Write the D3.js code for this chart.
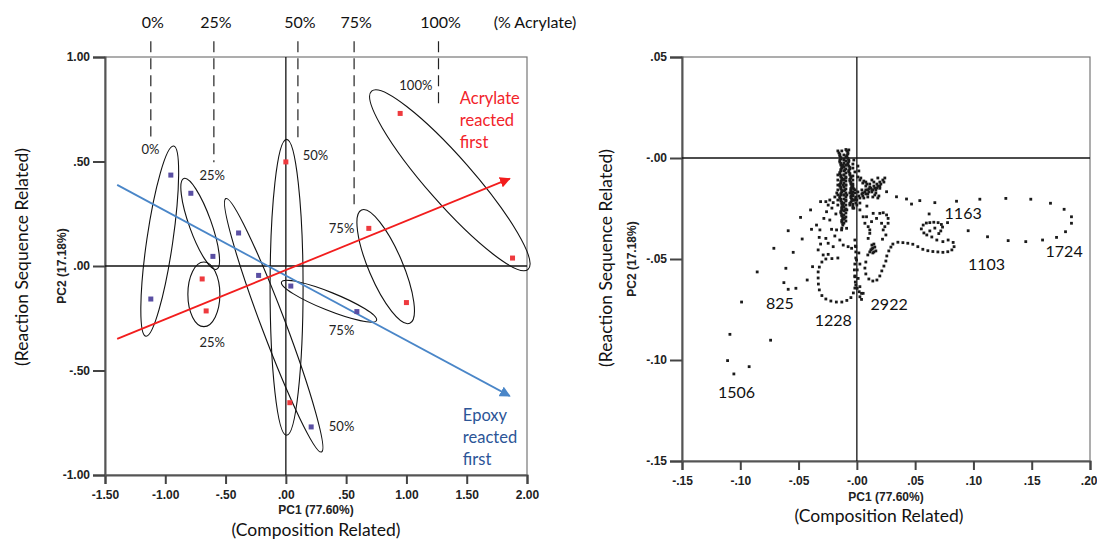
<!DOCTYPE html>
<html>
<head>
<meta charset="utf-8">
<script src="https://cdn.jsdelivr.net/npm/d3@7"></script>
<style>
  html, body { margin: 0; padding: 0; background: #fff; }
  svg { display: block; }
  .tick text { font-family: "Liberation Sans", Arial, sans-serif; font-weight: bold; font-size: 12px; fill: #222; }
</style>
</head>
<body>
<svg id="chart" width="1097" height="542"></svg>
<script>
// ---------- Left panel: PCA scores of cured samples ----------
const leftXTicks = [-1.5, -1.0, -0.5, 0, 0.5, 1.0, 1.5, 2.0];
const leftXTickLabels = ["-1.50", "-1.00", "-.50", ".00", ".50", "1.00", "1.50", "2.00"];
const leftYTicks = [1.0, 0.5, 0, -0.5, -1.0];
const leftYTickLabels = ["1.00", ".50", ".00", "-.50", "-1.00"];

// epoxy reacted first (blue) and acrylate reacted first (red) scores [PC1, PC2]
const epoxyFirstScores = [
  [-0.954, 0.435], [-1.12, -0.158],            // 0 %
  [-0.788, 0.348], [-0.605, 0.046],            // 25 %
  [-0.392, 0.158], [-0.226, -0.045], [0.21, -0.77], // 50 %
  [0.041, -0.096], [0.589, -0.218]             // 75 %
];
const acrylateFirstScores = [
  [-0.694, -0.062], [-0.661, -0.215],          // 25 %
  [0.00, 0.498], [0.033, -0.654],              // 50 %
  [0.688, 0.18], [1.0, -0.175],                // 75 %
  [0.948, 0.73], [1.88, 0.038]                 // 100 %
];

// group outlines: long-axis end points in score units
const groupOutlines = [
  [-0.931, 0.574, -1.161, -0.336],
  [-0.846, 0.419, -0.575, -0.016],
  [-0.68, 0.019, -0.68, -0.29],
  [-0.4975, 0.3225, 0.296, -0.89],
  [0.006, 0.606, 0.006, -0.81],
  [-0.036, -0.077, 0.752, -0.26],
  [0.628, 0.268, 1.028, -0.274],
  [0.711, 0.837, 2.009, -0.016]
];
const groupOutlineHalfWidths = [13, 11, 16, 12, 16.5, 9, 17, 23];

const groupLabels = ["0%", "25%", "50%", "75%", "100%", "25%", "75%", "50%"];
const groupLabelPos = [
  [-1.122, 0.558], [-0.611, 0.435], [0.246, 0.530], [0.462, 0.180],
  [1.078, 0.866], [-0.611, -0.364], [0.462, -0.306], [0.462, -0.766]
];

// composition guide lines (% acrylate) along PC1
const compositionLabels = ["0%", "25%", "50%", "75%", "100%"];
const compositionPC1 = [-1.12, -0.597, 0.10, 0.566, 1.266];
const compositionGuideEnd = [0.62, 0.496, 0.606, 0.295, 0.774];

// trend arrows [x1, y1, x2, y2]
const acrylateArrow = [-1.399, -0.349, 1.857, 0.418];
const epoxyArrow = [-1.399, 0.388, 1.857, -0.622];

// ---------- Right panel: PCA trajectory during cure ----------
const rightXTicks = [-0.15, -0.10, -0.05, 0, 0.05, 0.10, 0.15, 0.20];
const rightXTickLabels = ["-.15", "-.10", "-.05", "-.00", ".05", ".10", ".15", ".20"];
const rightYTicks = [0.05, 0, -0.05, -0.10, -0.15];
const rightYTickLabels = [".05", "-.00", "-.05", "-.10", "-.15"];

const trajectory = [
  // dense early cluster
  [-0.0154,0.0025],[-0.0146,0.0010],[-0.0137,-0.0005],[-0.0146,-0.0020],[-0.0137,-0.0035],
  [-0.0129,-0.0050],[-0.0137,-0.0064],[-0.0146,-0.0079],[-0.0137,-0.0094],[-0.0129,-0.0109],
  [-0.0137,-0.0124],[-0.0146,-0.0139],[-0.0137,-0.0153],[-0.0129,-0.0168],[-0.0137,-0.0183],
  [-0.0146,-0.0198],[-0.0137,-0.0213],[-0.0129,-0.0228],[-0.0129,-0.0243],[-0.0129,-0.0257],
  [-0.0137,-0.0272],[-0.0129,-0.0287],[-0.0120,-0.0302],[-0.0129,-0.0317],[-0.0120,-0.0332],
  [-0.0129,-0.0347],
  [-0.0146,0.0017],[-0.0137,0.0002],[-0.0146,-0.0012],[-0.0137,-0.0027],[-0.0129,-0.0042],
  [-0.0137,-0.0057],[-0.0146,-0.0072],[-0.0137,-0.0087],[-0.0129,-0.0101],[-0.0137,-0.0116],
  [-0.0146,-0.0131],[-0.0137,-0.0146],[-0.0129,-0.0161],[-0.0137,-0.0176],[-0.0146,-0.0191],
  [-0.0137,-0.0205],[-0.0129,-0.0220],[-0.0120,-0.0235],[-0.0129,-0.0250],[-0.0137,-0.0265],
  [-0.0129,-0.0280],[-0.0120,-0.0295],[-0.0129,-0.0309],[-0.0120,-0.0324],
  [-0.0111,0.0015],[-0.0111,-0.0005],[-0.0111,-0.0025],[-0.0111,-0.0045],[-0.0111,-0.0064],
  [-0.0111,-0.0084],[-0.0111,-0.0104],[-0.0111,-0.0124],[-0.0111,-0.0144],[-0.0111,-0.0163],
  [-0.0111,-0.0183],[-0.0111,-0.0203],[-0.0111,-0.0223],[-0.0111,-0.0243],[-0.0111,-0.0262],
  [-0.0111,-0.0282],[-0.0111,-0.0302],[-0.0111,-0.0322],
  [-0.0094,0.0005],[-0.0094,-0.0015],[-0.0094,-0.0035],[-0.0094,-0.0054],[-0.0094,-0.0074],
  [-0.0094,-0.0094],[-0.0094,-0.0114],[-0.0094,-0.0134],[-0.0094,-0.0153],[-0.0094,-0.0173],
  [-0.0094,-0.0193],[-0.0094,-0.0213],[-0.0094,-0.0233],[-0.0094,-0.0252],[-0.0094,-0.0272],
  [-0.0094,-0.0292],[-0.0094,-0.0312],
  [-0.0163,-0.0084],[-0.0163,-0.0109],[-0.0163,-0.0134],[-0.0163,-0.0158],[-0.0163,-0.0183],
  [-0.0163,-0.0208],[-0.0163,-0.0233],
  [-0.0086,0.0035],[-0.0077,0.0020],[-0.0086,0.0005],[-0.0069,-0.0010],[-0.0077,-0.0025],
  [-0.0069,-0.0040],[-0.0060,-0.0054],[-0.0069,-0.0069],[-0.0060,-0.0084],[-0.0051,-0.0099],
  [-0.0060,-0.0114],[-0.0051,-0.0129],[-0.0043,-0.0144],[-0.0051,-0.0158],[-0.0060,-0.0173],
  [-0.0051,-0.0188],[-0.0043,-0.0203],[-0.0051,-0.0218],[-0.0060,-0.0233],
  [-0.0077,0.0027],[-0.0086,0.0012],[-0.0077,-0.0002],[-0.0069,-0.0017],[-0.0077,-0.0032],
  [-0.0060,-0.0047],[-0.0069,-0.0062],[-0.0060,-0.0077],[-0.0051,-0.0092],[-0.0060,-0.0106],
  [-0.0051,-0.0121],[-0.0043,-0.0136],[-0.0051,-0.0151],[-0.0051,-0.0166],[-0.0043,-0.0181],
  [-0.0051,-0.0196],[-0.0043,-0.0210],[-0.0060,-0.0225],
  [-0.0034,-0.0089],[-0.0034,-0.0109],[-0.0034,-0.0129],[-0.0034,-0.0149],[-0.0034,-0.0168],
  [-0.0034,-0.0188],[-0.0034,-0.0208],[-0.0034,-0.0228],[-0.0034,-0.0248],
  [-0.0111,-0.0010],[-0.0103,-0.0059],[-0.0111,-0.0109],[-0.0103,-0.0158],[-0.0094,-0.0208],
  [-0.0103,-0.0257],[-0.0103,-0.0297],
  [-0.0120,-0.0035],[-0.0111,-0.0084],[-0.0120,-0.0134],[-0.0111,-0.0183],[-0.0120,-0.0233],
  [-0.0094,-0.0035],[-0.0094,-0.0134],[-0.0086,-0.0183],[-0.0086,-0.0257],[-0.0094,-0.0099],
  [-0.0163,0.0035],[-0.0129,0.0035],[-0.0069,0.0040],[-0.0094,0.0042],
  [-0.0026,-0.0153],[-0.0017,-0.0173],[-0.0009,-0.0193],[-0.0026,-0.0208],[-0.0009,-0.0223],
  [-0.0034,-0.0238],
  [-0.0034,-0.0139],[-0.0017,-0.0158],[-0.0034,-0.0183],[-0.0017,-0.0208],[0.0000,-0.0233],
  [-0.0026,-0.0248],[-0.0043,-0.0173],
  [-0.0026,-0.0010],[-0.0034,-0.0030],[-0.0034,-0.0050],[-0.0017,-0.0069],
  [0.0009,-0.0040],[0.0017,-0.0064],
  // branch to the right of the cluster
  [-0.0009,-0.0198],[0.0017,-0.0188],[0.0043,-0.0178],[0.0069,-0.0168],[0.0094,-0.0158],
  [0.0120,-0.0149],[0.0146,-0.0139],[0.0172,-0.0129],[0.0197,-0.0119],[0.0223,-0.0109],
  [0.0240,-0.0099],
  [0.0000,-0.0208],[0.0026,-0.0198],[0.0051,-0.0188],[0.0077,-0.0178],[0.0103,-0.0168],
  [0.0129,-0.0158],[0.0154,-0.0149],[0.0180,-0.0139],[0.0206,-0.0129],[0.0232,-0.0119],
  [0.0026,-0.0109],[0.0051,-0.0124],[0.0077,-0.0139],[0.0103,-0.0153],[0.0129,-0.0168],
  [0.0154,-0.0183],[0.0180,-0.0198],
  [0.0034,-0.0099],[0.0060,-0.0114],[0.0086,-0.0129],[0.0111,-0.0144],[0.0137,-0.0158],
  [0.0163,-0.0173],[0.0189,-0.0188],
  [0.0043,-0.0158],[0.0077,-0.0158],[0.0111,-0.0129],[0.0146,-0.0119],[0.0163,-0.0158],
  [0.0094,-0.0178],[0.0060,-0.0198],[0.0197,-0.0139],[0.0009,-0.0168],
  [0.0009,-0.0094],[0.0077,-0.0119],[0.0129,-0.0109],[0.0180,-0.0099],[0.0172,-0.0149],
  [0.0026,-0.0223],[0.0051,-0.0173],[0.0094,-0.0193],[0.0086,-0.0238],[0.0137,-0.0193],
  // excursion to 1724
  [0.0197,-0.0150],[0.0255,-0.0167],[0.0340,-0.0192],[0.0426,-0.0203],[0.0469,-0.0228],
  [0.0540,-0.0211],[0.0669,-0.0221],[0.0855,-0.0214],[0.1055,-0.0204],[0.1278,-0.0200],
  [0.1492,-0.0204],[0.1661,-0.0224],[0.1778,-0.0254],[0.1841,-0.0291],[0.1841,-0.0323],
  [0.1790,-0.0365],[0.1713,-0.0393],[0.1593,-0.0406],[0.1449,-0.0414],[0.1298,-0.0409],
  [0.1121,-0.0390],[0.0955,-0.0360],[0.0778,-0.0320],[0.0620,-0.0277],
  // small loop right of the axis
  [0.0026,-0.0257],[0.0054,-0.0291],[0.0069,-0.0323],[0.0097,-0.0340],[0.0126,-0.0315],
  [0.0169,-0.0299],[0.0197,-0.0274],[0.0226,-0.0271],[0.0255,-0.0282],[0.0268,-0.0299],
  [0.0268,-0.0323],[0.0240,-0.0340],[0.0212,-0.0323],[0.0111,-0.0356],[0.0226,-0.0356],
  [0.0249,-0.0381],[0.0220,-0.0402],[0.0097,-0.0398],[0.0111,-0.0373],[0.0083,-0.0291],
  [0.0140,-0.0274],
  // U-turn near 2922 and path to 1103 / 1163
  [0.0129,-0.0431],[0.0137,-0.0446],[0.0146,-0.0465],[0.0120,-0.0455],[0.0094,-0.0480],
  [0.0146,-0.0426],[0.0154,-0.0441],[0.0129,-0.0450],[0.0163,-0.0460],[0.0137,-0.0470],
  [0.0111,-0.0465],
  [0.0077,-0.0515],[0.0069,-0.0545],[0.0077,-0.0574],[0.0103,-0.0599],[0.0137,-0.0609],
  [0.0172,-0.0604],[0.0197,-0.0584],[0.0214,-0.0559],[0.0232,-0.0535],[0.0249,-0.0510],
  [0.0257,-0.0485],[0.0274,-0.0460],[0.0292,-0.0441],[0.0309,-0.0426],[0.0352,-0.0417],
  [0.0395,-0.0419],[0.0437,-0.0422],[0.0480,-0.0427],[0.0523,-0.0439],[0.0566,-0.0452],
  [0.0609,-0.0459],[0.0652,-0.0463],[0.0695,-0.0465],[0.0738,-0.0467],[0.0780,-0.0464],
  [0.0815,-0.0455],[0.0834,-0.0439],[0.0826,-0.0418],[0.0783,-0.0406],[0.0738,-0.0414],
  [0.0686,-0.0406],[0.0643,-0.0391],[0.0600,-0.0381],[0.0575,-0.0371],[0.0553,-0.0351],
  [0.0569,-0.0332],[0.0596,-0.0322],[0.0626,-0.0320],[0.0660,-0.0318],[0.0697,-0.0320],
  [0.0725,-0.0329],[0.0735,-0.0342],[0.0720,-0.0361],[0.0703,-0.0374],[0.0669,-0.0347],
  [0.0626,-0.0361],
  // late points along the PC2 axis (2922)
  [-0.0017,-0.0406],[-0.0009,-0.0439],[-0.0003,-0.0505],[0.0003,-0.0554],[0.0011,-0.0596],
  [0.0026,-0.0637],[0.0040,-0.0670],[0.0003,-0.0645],[0.0026,-0.0687],[0.0040,-0.0700],
  [-0.0009,-0.0629],[0.0020,-0.0662],[0.0054,-0.0670],[-0.0017,-0.0588],[0.0017,-0.0470],
  [0.0026,-0.0525],
  // loop at 1228
  [-0.0163,-0.0495],[-0.0214,-0.0498],[-0.0266,-0.0500],[-0.0300,-0.0515],[-0.0322,-0.0540],
  [-0.0332,-0.0564],[-0.0332,-0.0594],[-0.0330,-0.0624],[-0.0322,-0.0653],[-0.0300,-0.0681],
  [-0.0266,-0.0698],[-0.0223,-0.0708],[-0.0176,-0.0713],[-0.0129,-0.0713],[-0.0086,-0.0705],
  [-0.0051,-0.0691],[-0.0030,-0.0668],[-0.0017,-0.0644],[-0.0013,-0.0614],[-0.0017,-0.0584],
  [-0.0021,-0.0554],[-0.0017,-0.0525],[-0.0009,-0.0495],[-0.0009,-0.0465],[-0.0013,-0.0436],
  [-0.0146,-0.0406],[-0.0117,-0.0431],[-0.0075,-0.0439],[-0.0045,-0.0447],[-0.0174,-0.0356],
  [-0.0131,-0.0356],[-0.0088,-0.0348],[-0.0203,-0.0439],[-0.0246,-0.0422],[-0.0289,-0.0480],
  [-0.0332,-0.0455],[-0.0246,-0.0477],
  // early scattered points (825, 1506)
  [-0.0397,-0.0257],[-0.0483,-0.0294],[-0.0589,-0.0360],[-0.0389,-0.0353],[-0.0346,-0.0332],
  [-0.0217,-0.0353],[-0.0469,-0.0401],[-0.0323,-0.0393],[-0.0266,-0.0398],[-0.0311,-0.0426],
  [-0.0712,-0.0447],[-0.0546,-0.0467],[-0.0380,-0.0538],[-0.0609,-0.0546],[-0.0426,-0.0604],
  [-0.0626,-0.0617],[-0.0523,-0.0645],[-0.0589,-0.0650],[-0.0855,-0.0564],[-0.0989,-0.0713],
  [-0.1089,-0.0873],[-0.0740,-0.0902],[-0.1109,-0.1003],[-0.0924,-0.1033],[-0.1055,-0.1069],
  [-0.0283,-0.0299],[-0.0260,-0.0266],[-0.0246,-0.0233],[-0.0266,-0.0216],[-0.0232,-0.0208],
  [-0.0203,-0.0221],[-0.0317,-0.0356],[-0.0311,-0.0216],[-0.0189,-0.0193],[-0.0172,-0.0173],
  [-0.0214,-0.0248],[-0.0180,-0.0277],[-0.0232,-0.0307],[-0.0189,-0.0386]
];

// wavenumber labels along the trajectory
const wavenumberLabels = ["1163", "1103", "1724", "825", "1228", "2922", "1506"];
const wavenumberPos = [
  [0.0912, -0.0274], [0.1112, -0.0525], [0.1778, -0.0464], [-0.0660, -0.0719],
  [-0.0203, -0.0802], [0.0277, -0.0723], [-0.1032, -0.1162]
];

// ---------- drawing ----------
const svg = d3.select("#chart");
svg.append("rect").attr("width", 1097).attr("height", 542).attr("fill", "#fff");

const labelFont = "Lato, 'Open Sans', sans-serif";
const boldFont = "'Liberation Sans', Arial, sans-serif";

function drawFrame(g, x, y, xTicks, xLabels, yTicks, yLabels) {
  const [x0, x1] = x.range();
  const [y0, y1] = y.range();
  // plot frame
  g.append("rect")
    .attr("x", x0).attr("y", y1).attr("width", x1 - x0).attr("height", y0 - y1)
    .attr("fill", "none").attr("stroke", "#777").attr("stroke-width", 1.2);
  const ax = g.append("g").attr("transform", `translate(0,${y0})`)
    .call(d3.axisBottom(x).tickValues(xTicks).tickFormat((d, i) => xLabels[i]).tickSizeOuter(0).tickSize(9).tickPadding(6));
  const ay = g.append("g").attr("transform", `translate(${x0},0)`)
    .call(d3.axisLeft(y).tickValues(yTicks).tickFormat((d, i) => yLabels[i]).tickSizeOuter(0).tickSize(12).tickPadding(3));
  [ax, ay].forEach(a => {
    a.select(".domain").attr("stroke", "#555").attr("stroke-width", 2);
    a.selectAll(".tick line").attr("stroke", "#444").attr("stroke-width", 2);
  });
  // zero cross lines
  g.append("line").attr("x1", x(0)).attr("x2", x(0)).attr("y1", y0).attr("y2", y1)
    .attr("stroke", "#111").attr("stroke-width", 1.3);
  g.append("line").attr("x1", x0).attr("x2", x1).attr("y1", y(0)).attr("y2", y(0))
    .attr("stroke", "#111").attr("stroke-width", 1.3);
  return ax;
}

// ----- left panel -----
const xL = d3.scaleLinear().domain([-1.5, 2.0]).range([105, 527]);
const yL = d3.scaleLinear().domain([-1.0, 1.0]).range([475, 57]);
const gL = svg.append("g");
drawFrame(gL, xL, yL, leftXTicks, leftXTickLabels, leftYTicks, leftYTickLabels);

// composition guide lines above the plot
const guideTop = 1.075;
gL.selectAll(".guide").data(compositionPC1).join("line")
  .attr("x1", d => xL(d)).attr("x2", d => xL(d))
  .attr("y1", yL(guideTop)).attr("y2", (d, i) => yL(compositionGuideEnd[i]))
  .attr("stroke", "#222").attr("stroke-width", 1.2).attr("stroke-dasharray", "11,6");
gL.selectAll(".complabel").data(compositionLabels).join("text")
  .attr("x", (d, i) => xL(compositionPC1[i]) + 2).attr("y", 28)
  .attr("text-anchor", "middle").attr("font-family", labelFont).attr("font-size", 16)
  .attr("fill", "#111").text(d => d);
gL.append("text").attr("x", 535).attr("y", 28).attr("text-anchor", "middle")
  .attr("font-family", labelFont).attr("font-size", 16).attr("fill", "#111").text("(% Acrylate)");

// arrow heads
const defs = svg.append("defs");
[["headRed", "#f21d1d"], ["headBlue", "#4a86c8"]].forEach(([id, c]) => {
  defs.append("marker").attr("id", id).attr("viewBox", "0 0 10 10")
    .attr("refX", 9).attr("refY", 5).attr("markerWidth", 6).attr("markerHeight", 6)
    .attr("markerUnits", "strokeWidth").attr("orient", "auto")
    .append("path").attr("d", "M0,0 L10,5 L0,10 Z").attr("fill", c);
});

// group outlines
gL.selectAll(".outline").data(groupOutlines).join("ellipse")
  .each(function (d, i) {
    const px1 = xL(d[0]), py1 = yL(d[1]), px2 = xL(d[2]), py2 = yL(d[3]);
    const cx = (px1 + px2) / 2, cy = (py1 + py2) / 2;
    const rx = Math.hypot(px2 - px1, py2 - py1) / 2;
    const ang = Math.atan2(py2 - py1, px2 - px1) * 180 / Math.PI;
    d3.select(this).attr("cx", 0).attr("cy", 0).attr("rx", rx).attr("ry", groupOutlineHalfWidths[i])
      .attr("transform", `translate(${cx},${cy}) rotate(${ang})`);
  })
  .attr("fill", "none").attr("stroke", "#111").attr("stroke-width", 1.1);

// trend arrows
gL.append("line")
  .attr("x1", xL(epoxyArrow[0])).attr("y1", yL(epoxyArrow[1]))
  .attr("x2", xL(epoxyArrow[2])).attr("y2", yL(epoxyArrow[3]))
  .attr("stroke", "#4a86c8").attr("stroke-width", 1.8).attr("marker-end", "url(#headBlue)");
gL.append("line")
  .attr("x1", xL(acrylateArrow[0])).attr("y1", yL(acrylateArrow[1]))
  .attr("x2", xL(acrylateArrow[2])).attr("y2", yL(acrylateArrow[3]))
  .attr("stroke", "#f21d1d").attr("stroke-width", 1.8).attr("marker-end", "url(#headRed)");

// sample scores
const sq = 5;
gL.selectAll(".epoxy").data(epoxyFirstScores).join("rect")
  .attr("x", d => xL(d[0]) - sq / 2).attr("y", d => yL(d[1]) - sq / 2)
  .attr("width", sq).attr("height", sq).attr("fill", "#5a4fa3");
gL.selectAll(".acrylate").data(acrylateFirstScores).join("rect")
  .attr("x", d => xL(d[0]) - sq / 2).attr("y", d => yL(d[1]) - sq / 2)
  .attr("width", sq).attr("height", sq).attr("fill", "#ee3a3e");

// group labels
gL.selectAll(".glabel").data(groupLabels).join("text")
  .attr("x", (d, i) => xL(groupLabelPos[i][0])).attr("y", (d, i) => yL(groupLabelPos[i][1]))
  .attr("dy", "0.35em").attr("text-anchor", "middle")
  .attr("font-family", labelFont).attr("font-size", 13).attr("fill", "#222").text(d => d);

// arrow captions
function caption(lines, x, y, color) {
  const t = gL.append("text").attr("font-family", labelFont).attr("font-size", 16.5).attr("fill", color);
  lines.forEach((s, i) => t.append("tspan").attr("x", x).attr("y", y + i * 22).attr("dy", "0.35em").text(s));
}
caption(["Acrylate", "reacted", "first"], xL(1.443), yL(0.801), "#f2232a");
caption(["Epoxy", "reacted", "first"], xL(1.468), yL(-0.714), "#2c5597");

// axis titles
gL.append("text").attr("x", 316).attr("y", 514).attr("text-anchor", "middle")
  .attr("font-family", boldFont).attr("font-weight", "bold").attr("font-size", 12).attr("fill", "#222")
  .text("PC1 (77.60%)");
gL.append("text").attr("x", 316).attr("y", 530).attr("dy", "0.35em").attr("text-anchor", "middle")
  .attr("font-family", labelFont).attr("font-size", 17.5).attr("fill", "#111")
  .text("(Composition Related)");
gL.append("text").attr("transform", "translate(62,266) rotate(-90)").attr("dy", "0.35em")
  .attr("text-anchor", "middle").attr("font-family", boldFont).attr("font-weight", "bold")
  .attr("font-size", 12).attr("fill", "#222").text("PC2 (17.18%)");
gL.append("text").attr("transform", "translate(22,257) rotate(-90)").attr("dy", "0.35em")
  .attr("text-anchor", "middle").attr("font-family", labelFont).attr("font-size", 17.5)
  .attr("fill", "#111").text("(Reaction Sequence Related)");

// ----- right panel -----
const xR = d3.scaleLinear().domain([-0.15, 0.20]).range([682, 1090]);
const yR = d3.scaleLinear().domain([-0.15, 0.05]).range([461, 57]);
const gR = svg.append("g");
const axR = drawFrame(gR, xR, yR, rightXTicks, rightXTickLabels, rightYTicks, rightYTickLabels);
// keep the last tick label inside the page edge
axR.selectAll(".tick text").filter((d, i, n) => i === n.length - 1)
  .attr("text-anchor", "end").attr("dx", 7);

const ds = 2.8;
gR.selectAll(".pt").data(trajectory).join("rect")
  .attr("x", d => xR(d[0]) - ds / 2).attr("y", d => yR(d[1]) - ds / 2)
  .attr("width", ds).attr("height", ds).attr("fill", "#1a1a1a");

gR.selectAll(".wn").data(wavenumberLabels).join("text")
  .attr("x", (d, i) => xR(wavenumberPos[i][0])).attr("y", (d, i) => yR(wavenumberPos[i][1]))
  .attr("dy", "0.35em").attr("text-anchor", "middle")
  .attr("font-family", labelFont).attr("font-size", 16).attr("fill", "#111").text(d => d);

gR.append("text").attr("x", 886).attr("y", 501).attr("text-anchor", "middle")
  .attr("font-family", boldFont).attr("font-weight", "bold").attr("font-size", 12).attr("fill", "#222")
  .text("PC1 (77.60%)");
gR.append("text").attr("x", 879).attr("y", 516).attr("dy", "0.35em").attr("text-anchor", "middle")
  .attr("font-family", labelFont).attr("font-size", 17.5).attr("fill", "#111")
  .text("(Composition Related)");
gR.append("text").attr("transform", "translate(632,259) rotate(-90)").attr("dy", "0.35em")
  .attr("text-anchor", "middle").attr("font-family", boldFont).attr("font-weight", "bold")
  .attr("font-size", 12).attr("fill", "#222").text("PC2 (17.18%)");
gR.append("text").attr("transform", "translate(606,258) rotate(-90)").attr("dy", "0.35em")
  .attr("text-anchor", "middle").attr("font-family", labelFont).attr("font-size", 17.5)
  .attr("fill", "#111").text("(Reaction Sequence Related)");
</script>
</body>
</html>
